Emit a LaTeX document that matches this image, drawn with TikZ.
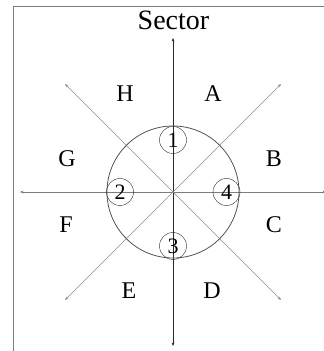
\documentclass[tikz,border=0pt]{standalone}
\usepackage{fontspec}
\setmainfont{Liberation Serif}
\usetikzlibrary{arrows.meta}
\definecolor{frameC}{RGB}{125,125,125}
\definecolor{diagC}{RGB}{140,140,140}
\definecolor{axisC}{RGB}{40,40,40}

\begin{document}
\begin{tikzpicture}[x=1pt,y=1pt,
  tip/.style={-{Stealth[length=3.5pt,width=2.8pt]}},
  lab/.style={font=\fontsize{24}{28}\selectfont,inner sep=0pt},
  num/.style={draw=axisC,circle,minimum size=27pt,inner sep=0pt,
    font=\fontsize{22}{26}\selectfont}]
  \useasboundingbox (0,0) rectangle (324,351);
  \clip (0,0) rectangle (324,351);
  % frame, only top and left are inside the page
  \draw[frameC,line width=1pt] (13,-10) -- (13,344) -- (340,344);
  \node[font=\fontsize{28}{32}\selectfont,anchor=base,inner sep=0pt] (title) at (173.5,321) {Sector};

  \coordinate (O) at (173,159);
  \coordinate (n) at (173,313);
  \coordinate (s) at (173,5);
  \coordinate (e) at (326,159);
  \coordinate (w) at (20,159);
  \coordinate (ne) at (281,267);
  \coordinate (nw) at (65,267);
  \coordinate (se) at (281,51);
  \coordinate (sw) at (65,51);

  % axes and diagonals
  \draw[tip,axisC,line width=0.9pt] (O) -- (n);
  \draw[tip,axisC,line width=0.9pt] (O) -- (s);
  \draw[tip,frameC,line width=0.9pt] (O) -- (e);
  \draw[tip,frameC,line width=0.9pt] (O) -- (w);
  \foreach \d in {ne,nw,se,sw}
    \draw[tip,diagC,line width=0.7pt] (O) -- (\d);
  \draw[axisC!80,line width=0.8pt] (O) circle (66);

  % sector letters
  \node[lab] (A) at (213,257) {A};
  \node[lab] (B) at (274,192) {B};
  \node[lab] (C) at (274,126) {C};
  \node[lab] (D) at (212,60) {D};
  \node[lab] (E) at (129,60) {E};
  \node[lab] (F) at (66,126) {F};
  \node[lab] (G) at (67,192) {G};
  \node[lab] (H) at (125,257) {H};

  % numbered points on the circle
  \node[num] (p1) at (173,211) {1};
  \node[num] (p2) at (120,159) {2};
  \node[num] (p3) at (173,105) {3};
  \node[num] (p4) at (226.5,159) {4};
\end{tikzpicture}
\end{document}
